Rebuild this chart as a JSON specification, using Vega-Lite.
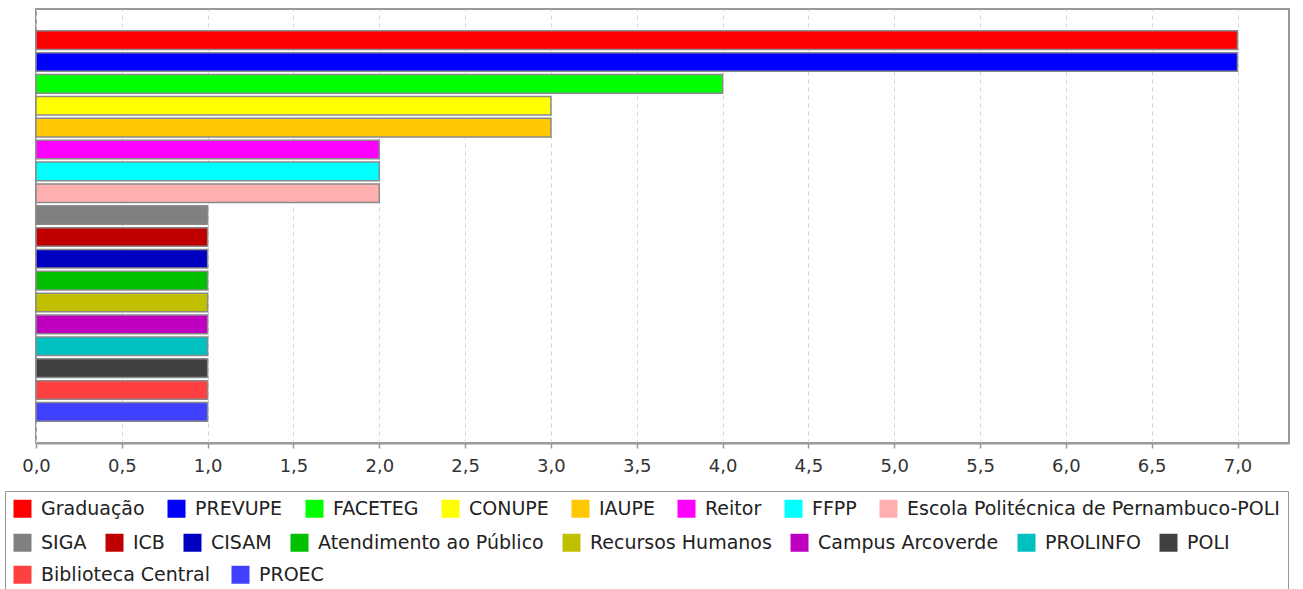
{
  "$schema": "https://vega.github.io/schema/vega-lite/v6.json",
  "width": 1253,
  "height": 434,
  "autosize": {"type": "none"},
  "padding": {"left": 36, "top": 9, "right": 14, "bottom": 146},
  "background": "white",
  "config": {
    "view": {"stroke": "#999999", "strokeWidth": 2},
    "font": "DejaVu Sans",
    "legend": {
      "orient": "none",
      "direction": "horizontal",
      "symbolType": "square",
      "symbolSize": 324,
      "symbolStrokeWidth": 0,
      "symbolOpacity": 1,
      "labelFont": "DejaVu Sans",
      "labelFontSize": 19,
      "labelColor": "#222222",
      "labelOffset": 9,
      "labelLimit": 0,
      "padding": 0
    }
  },
  "data": {
    "values": [
      {"setor": "Graduação", "valor": 7},
      {"setor": "PREVUPE", "valor": 7},
      {"setor": "FACETEG", "valor": 4},
      {"setor": "CONUPE", "valor": 3},
      {"setor": "IAUPE", "valor": 3},
      {"setor": "Reitor", "valor": 2},
      {"setor": "FFPP", "valor": 2},
      {"setor": "Escola Politécnica de Pernambuco-POLI", "valor": 2},
      {"setor": "SIGA", "valor": 1},
      {"setor": "ICB", "valor": 1},
      {"setor": "CISAM", "valor": 1},
      {"setor": "Atendimento ao Público", "valor": 1},
      {"setor": "Recursos Humanos", "valor": 1},
      {"setor": "Campus Arcoverde", "valor": 1},
      {"setor": "PROLINFO", "valor": 1},
      {"setor": "POLI", "valor": 1},
      {"setor": "Biblioteca Central", "valor": 1},
      {"setor": "PROEC", "valor": 1}
    ]
  },
  "encoding": {
    "y": {
      "field": "setor",
      "type": "nominal",
      "scale": {
        "domain": ["Graduação", "PREVUPE", "FACETEG", "CONUPE", "IAUPE", "Reitor", "FFPP", "Escola Politécnica de Pernambuco-POLI", "SIGA", "ICB", "CISAM", "Atendimento ao Público", "Recursos Humanos", "Campus Arcoverde", "PROLINFO", "POLI", "Biblioteca Central", "PROEC"],
        "paddingInner": 0.15,
        "paddingOuter": 1.0
      },
      "axis": null
    },
    "x": {
      "field": "valor",
      "type": "quantitative",
      "scale": {"domain": [0, 7.3], "nice": false, "zero": true},
      "axis": {
        "title": null,
        "values": [0, 0.5, 1, 1.5, 2, 2.5, 3, 3.5, 4, 4.5, 5, 5.5, 6, 6.5, 7],
        "labelExpr": "replace(format(datum.value, '.1f'), '.', ',')",
        "labelFont": "DejaVu Sans",
        "labelFontSize": 18,
        "labelColor": "#333333",
        "labelPadding": 9,
        "labelFlush": false,
        "labelOverlap": false,
        "domainColor": "#999999",
        "domainWidth": 2,
        "tickColor": "#999999",
        "tickSize": 5,
        "tickWidth": 1.5,
        "grid": true,
        "gridColor": "#d6d6d6",
        "gridDash": [4, 4],
        "gridWidth": 1
      }
    }
  },
  "layer": [
    {
      "transform": [{"filter": {"field": "setor", "oneOf": ["Graduação", "PREVUPE", "FACETEG", "CONUPE", "IAUPE", "Reitor", "FFPP", "Escola Politécnica de Pernambuco-POLI"]}}],
      "mark": {"type": "bar", "stroke": "#8a8a8a", "strokeWidth": 1.5},
      "encoding": {
        "color": {
          "field": "setor",
          "type": "nominal",
          "scale": {
            "domain": ["Graduação", "PREVUPE", "FACETEG", "CONUPE", "IAUPE", "Reitor", "FFPP", "Escola Politécnica de Pernambuco-POLI"],
            "range": ["#FF0000", "#0000FF", "#00FF00", "#FFFF00", "#FFC800", "#FF00FF", "#00FFFF", "#FFAFAF"]
          },
          "legend": {
            "title": ["\u00a0", "\u00a0"],
            "titleOrient": "bottom",
            "titleFontSize": 30,
            "titleLineHeight": 36,
            "titlePadding": 10,
            "legendX": -31,
            "legendY": 482,
            "padding": 8,
            "columnPadding": 22,
            "strokeColor": "#999999",
            "fillColor": "white",
            "cornerRadius": 0
          }
        }
      }
    },
    {
      "transform": [{"filter": {"field": "setor", "oneOf": ["SIGA", "ICB", "CISAM", "Atendimento ao Público", "Recursos Humanos", "Campus Arcoverde", "PROLINFO", "POLI"]}}],
      "mark": {"type": "bar", "stroke": "#8a8a8a", "strokeWidth": 1.5},
      "encoding": {
        "color": {
          "field": "setor",
          "type": "nominal",
          "scale": {
            "domain": ["SIGA", "ICB", "CISAM", "Atendimento ao Público", "Recursos Humanos", "Campus Arcoverde", "PROLINFO", "POLI"],
            "range": ["#808080", "#C00000", "#0000C0", "#00C000", "#C0C000", "#C000C0", "#00C0C0", "#404040"]
          },
          "legend": {
            "title": null,
            "legendX": -23,
            "legendY": 524,
            "columnPadding": 18
          }
        }
      }
    },
    {
      "transform": [{"filter": {"field": "setor", "oneOf": ["Biblioteca Central", "PROEC"]}}],
      "mark": {"type": "bar", "stroke": "#8a8a8a", "strokeWidth": 1.5},
      "encoding": {
        "color": {
          "field": "setor",
          "type": "nominal",
          "scale": {
            "domain": ["Biblioteca Central", "PROEC"],
            "range": ["#FF4040", "#4040FF"]
          },
          "legend": {
            "title": null,
            "legendX": -23,
            "legendY": 556,
            "columnPadding": 20
          }
        }
      }
    }
  ],
  "resolve": {"scale": {"color": "independent"}, "legend": {"color": "independent"}}
}
